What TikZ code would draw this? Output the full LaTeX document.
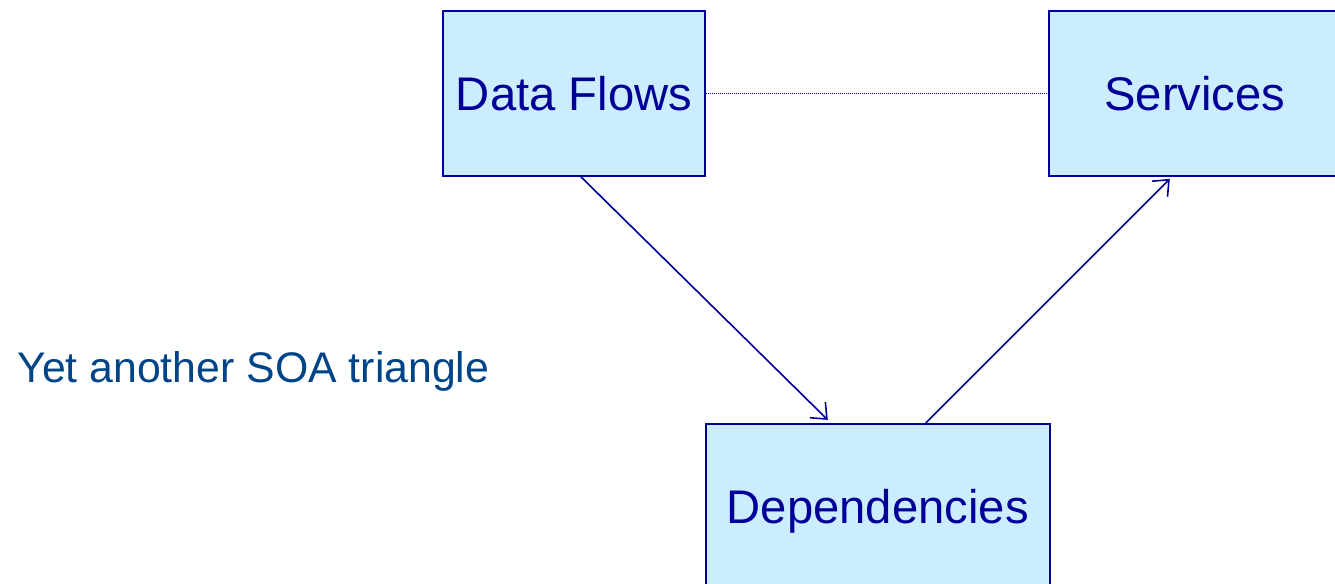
\documentclass[tikz,border=0pt]{standalone}
\usepackage{fontspec}
\setmainfont{Liberation Sans}
\usetikzlibrary{
  positioning,
  arrows.meta
}

\definecolor{boxfill}{HTML}{CCECFF}
\definecolor{boxline}{HTML}{000099}
\definecolor{titleblue}{HTML}{004488}

\begin{document}
\begin{tikzpicture}[
  x=0.5pt, y=-0.5pt,
  every node/.style={font=\fontsize{23.6pt}{28pt}\selectfont},
  block/.style={draw=boxline, line width=0.9pt, rectangle, fill=boxfill, text=boxline, minimum height=82.5pt, text height=16.8pt, text depth=0pt, align=center},
  arrow/.style={draw=boxline, line width=0.8pt, -{Straight Barb[length=6.5pt, width=11pt]}},
  link/.style={draw=boxline, line width=0.6pt, dash pattern=on 0.5pt off 0.5pt},
  caption/.style={text=titleblue, inner sep=0pt, anchor=base west, font=\fontsize{21.4pt}{25pt}\selectfont}
]
\useasboundingbox (0,0) rectangle (1335,584);
\clip (0,0) rectangle (1335,584);

% Boxes
\node[block, minimum width=131pt] (flows) at (574,93.5) {Data Flows};
\node[block, minimum width=146pt, right=171pt of flows] (services) {Services};
\node[block, minimum width=172pt, below right=123pt and -0.5pt of flows] (deps) {Dependencies};

% Caption
\node[caption] (title) at (17,382) {Yet another SOA triangle};

% Connectors
\draw[link] (flows) -- (services);
\draw[arrow] ([xshift=3.5pt]flows.south) -- ([xshift=-25pt, yshift=1.5pt]deps.north);
\draw[arrow] ([xshift=24pt]deps.north) -- ([xshift=-12.5pt, yshift=-1pt]services.south);

\end{tikzpicture}
\end{document}
